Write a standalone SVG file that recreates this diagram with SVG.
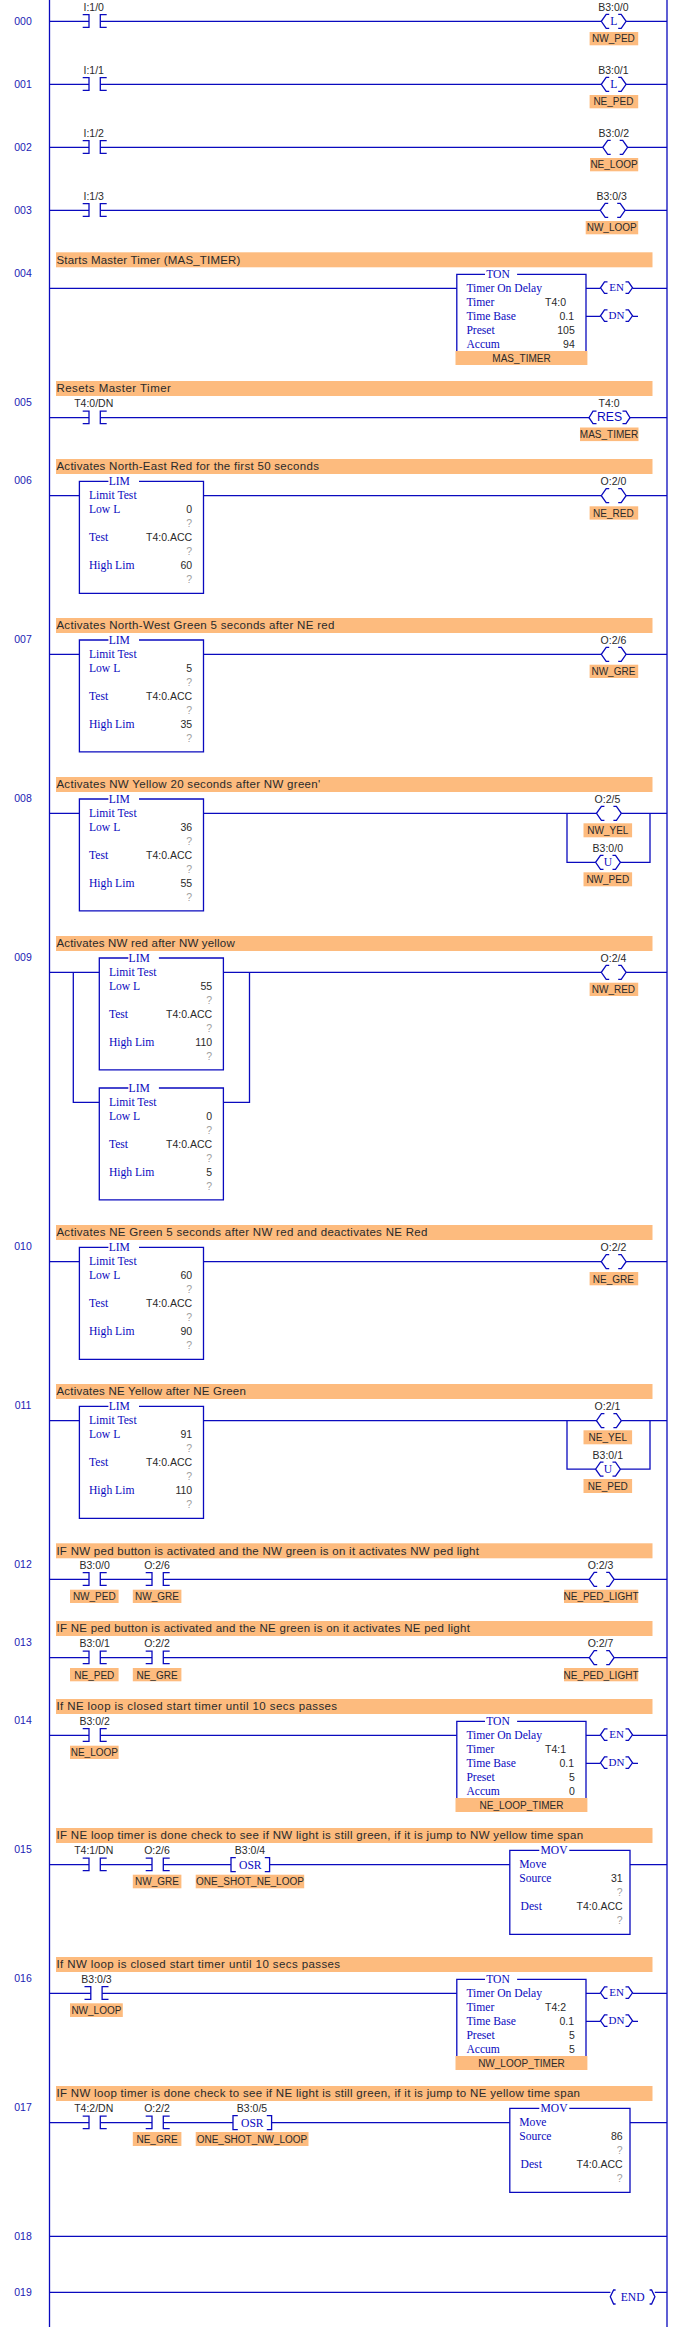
<svg xmlns="http://www.w3.org/2000/svg" width="681" height="2327" viewBox="0 0 681 2327">
<style>
text{font-family:"Liberation Sans",Arial,sans-serif;font-size:10.5px;fill:#2a2a2a}
.n{fill:#1c1cb4;text-anchor:middle}
.a{text-anchor:middle}
.t{text-anchor:middle;font-size:10px}
.v{text-anchor:end}
.q{text-anchor:end;fill:#a0a0a0}
.c{font-size:11.5px}
.s{font-family:"Liberation Serif","Times New Roman",serif;font-size:11.6px;fill:#0a0abe}
.m{font-family:"Liberation Serif","Times New Roman",serif;font-size:11.6px;fill:#0a0abe;text-anchor:middle}
.e{font-family:"Liberation Serif","Times New Roman",serif;font-size:11px;fill:#0a0abe;text-anchor:middle}
.r{font-family:"Liberation Sans",Arial,sans-serif;font-size:12.2px;fill:#0a0abe;text-anchor:middle}
.w{fill:none;stroke:#0a0abe;stroke-width:1.3}
.b{fill:#fdbb7e}
</style>
<defs>
<path id="contact" class="w" d="M-12 -6.6H-5.7V6H-12M12 -6.6H5.6V6H12"/>
<path id="coil" class="w" d="M-4.5 -7H-7.5L-12.4 0L-7.5 7H-4.5M4.5 -7H7.5L12.4 0L7.5 7H4.5"/>
<path id="coilw" class="w" d="M-9 -6.5H-12L-16 -.5L-12 5H-9M9 -6.5H12L16 -.5L12 5H9"/>
<path id="coilres" class="w" d="M-13 -6.5H-16.5L-20.5 0L-16.5 6H-13M13 -6.5H16.5L20.5 0L16.5 6H13"/>
<path id="coilend" class="w" d="M-17 -2.3H-19L-22.3 4.5L-19 11.7H-17M17 -2.3H19L22.3 4.5L19 11.7H17"/>
<path id="osr" class="w" d="M-14.5 -7H-19.3V7H-14.5M14.5 -7H19.3V7H14.5"/>
<path id="limbox" class="w" d="M29 -14.3H0V97.6H124.1V-14.3H59.6"/>
<path id="tonbox" class="w" d="M0 62.7V-14H28.2M60.3 -14H129.2V62.7"/>
<path id="movbox" class="w" d="M29.5 -14.3H0V69.7H120.2V-14.3H59.5"/>
</defs>
<rect width="681" height="2327" fill="#fff"/>

<g id="comments">
<rect class="b" x="56" y="252.3" width="596.5" height="15"/><text class="c" x="56.4" y="263.6" textLength="184" lengthAdjust="spacing">Starts Master Timer (MAS_TIMER)</text>
<rect class="b" x="56" y="381" width="596.5" height="15"/><text class="c" x="56.4" y="392.3" textLength="114.5" lengthAdjust="spacing">Resets Master Timer</text>
<rect class="b" x="56" y="459" width="596.5" height="15"/><text class="c" x="56.4" y="470.3" textLength="262.5" lengthAdjust="spacing">Activates North-East Red for the first 50 seconds</text>
<rect class="b" x="56" y="618" width="596.5" height="15"/><text class="c" x="56.4" y="629.3" textLength="278" lengthAdjust="spacing">Activates North-West Green 5 seconds after NE red</text>
<rect class="b" x="56" y="777" width="596.5" height="15"/><text class="c" x="56.4" y="788.3" textLength="263.8" lengthAdjust="spacing">Activates NW Yellow 20 seconds after NW green'</text>
<rect class="b" x="56" y="936" width="596.5" height="15"/><text class="c" x="56.4" y="947.3" textLength="178.3" lengthAdjust="spacing">Activates NW red after NW yellow</text>
<rect class="b" x="56" y="1225" width="596.5" height="15"/><text class="c" x="56.4" y="1236.3" textLength="371" lengthAdjust="spacing">Activates NE Green 5 seconds after NW red and deactivates NE Red</text>
<rect class="b" x="56" y="1384" width="596.5" height="15"/><text class="c" x="56.4" y="1395.3" textLength="189.5" lengthAdjust="spacing">Activates NE Yellow after NE Green</text>
<rect class="b" x="56" y="1543.3" width="596.5" height="15"/><text class="c" x="56.4" y="1554.6" textLength="422.6" lengthAdjust="spacing">IF NW ped button is activated and the NW green is on it activates NW ped light</text>
<rect class="b" x="56" y="1621" width="596.5" height="15"/><text class="c" x="56.4" y="1632.3" textLength="413.5" lengthAdjust="spacing">IF NE ped button is activated and the NE green is on it activates NE ped light</text>
<rect class="b" x="56" y="1699" width="596.5" height="15"/><text class="c" x="56.4" y="1710.3" textLength="280.7" lengthAdjust="spacing">If NE loop is closed start timer until 10 secs passes</text>
<rect class="b" x="56" y="1828" width="596.5" height="15"/><text class="c" x="56.4" y="1839.3" textLength="526.7" lengthAdjust="spacing">IF NE loop timer is done check to see if NW light is still green, if it is jump to NW yellow time span</text>
<rect class="b" x="56" y="1957" width="596.5" height="15"/><text class="c" x="56.4" y="1968.3" textLength="283.7" lengthAdjust="spacing">If NW loop is closed start timer until 10 secs passes</text>
<rect class="b" x="56" y="2086" width="596.5" height="15"/><text class="c" x="56.4" y="2097.3" textLength="523.6" lengthAdjust="spacing">IF NW loop timer is done check to see if NE light is still green, if it is jump to NE yellow time span</text>
</g>

<g id="rung-numbers">
<text class="n" x="23" y="25.1">000</text>
<text class="n" x="23" y="88.1">001</text>
<text class="n" x="23" y="151.1">002</text>
<text class="n" x="23" y="214.1">003</text>
<text class="n" x="23" y="277.1">004</text>
<text class="n" x="23" y="406.1">005</text>
<text class="n" x="23" y="484.1">006</text>
<text class="n" x="23" y="643.1">007</text>
<text class="n" x="23" y="801.8">008</text>
<text class="n" x="23" y="960.8">009</text>
<text class="n" x="23" y="1250.1">010</text>
<text class="n" x="23" y="1409.1">011</text>
<text class="n" x="23" y="1568.1">012</text>
<text class="n" x="23" y="1646.1">013</text>
<text class="n" x="23" y="1724.1">014</text>
<text class="n" x="23" y="1853.1">015</text>
<text class="n" x="23" y="1981.8">016</text>
<text class="n" x="23" y="2110.8">017</text>
<text class="n" x="23" y="2239.8">018</text>
<text class="n" x="23" y="2295.8">019</text>
</g>

<g id="connectors" class="w">
<path d="M49.5 0V2327M667 0V2327"/>
<path d="M49.5 21.3H89M100.3 21.3H601.3M626.1 21.3H667"/>
<path d="M49.5 84.3H89M100.3 84.3H601.3M626.1 84.3H667"/>
<path d="M49.5 147.3H89M100.3 147.3H602.8M627.6 147.3H667"/>
<path d="M49.5 210.3H89M100.3 210.3H600.3M625.1 210.3H667"/>
<path d="M49.5 288.3H456.8M586 288.3H600.5M632.5 288.3H667M586 316.3H600.5M632.5 316.3H638"/>
<path d="M49.5 417.7H89M100.3 417.7H589M630 417.7H667"/>
<path d="M49.5 495.7H79.4M203.5 495.7H601.3M626.1 495.7H667"/>
<path d="M49.5 654.3H79.4M203.5 654.3H601.3M626.1 654.3H667"/>
<path d="M49.5 813.3H79.4M203.5 813.3H596.5M621.3 813.3H667M567 813.3V862.3H595.6M620.4 862.3H650V813.3"/>
<path d="M49.5 972.3H99.3M223.4 972.3H601.3M626.1 972.3H667M73.3 972.3V1102.3H99.3M223.4 1102.3H249.5V972.3"/>
<path d="M49.5 1261.7H79.4M203.5 1261.7H601.3M626.1 1261.7H667"/>
<path d="M49.5 1420.7H79.4M203.5 1420.7H596.5M621.3 1420.7H667M567 1420.7V1469.2H595.6M620.4 1469.2H650V1420.7"/>
<path d="M49.5 1579.3H89M100.3 1579.3H152M163.3 1579.3H589.3M614.1 1579.3H667"/>
<path d="M49.5 1657.7H89M100.3 1657.7H152M163.3 1657.7H589.3M614.1 1657.7H667"/>
<path d="M49.5 1735.3H89M100.3 1735.3H456.8M586 1735.3H600.5M632.5 1735.3H667M586 1763.3H600.5M632.5 1763.3H638"/>
<path d="M49.5 1864.7H89M100.3 1864.7H152M163.3 1864.7H231M270 1864.7H509.8M630 1864.7H667"/>
<path d="M49.5 1993.3H90.8M102.1 1993.3H456.8M586 1993.3H600.5M632.5 1993.3H667M586 2021.3H600.5M632.5 2021.3H638"/>
<path d="M49.5 2122.7H89M100.3 2122.7H152M163.3 2122.7H233M271.7 2122.7H509.8M630 2122.7H667"/>
<path d="M49.5 2236.3H667"/>
<path d="M49.5 2292.3H610.4M654.8 2292.3H667"/>
</g>

<g id="c000"><use href="#contact" x="94.7" y="21.3"/><text class="a" x="93.7" y="11">I:1/0</text></g>
<g id="o000"><use href="#coil" x="613.7" y="21.3"/><text class="m" x="613.7" y="25.3">L</text><text class="a" x="613.4" y="11">B3:0/0</text><rect class="b" x="589.6" y="32" width="48.6" height="13.3"/><text class="t" x="613.4" y="42.2">NW_PED</text></g>
<g id="c001"><use href="#contact" x="94.7" y="84.3"/><text class="a" x="93.7" y="74">I:1/1</text></g>
<g id="o001"><use href="#coil" x="613.7" y="84.3"/><text class="m" x="613.7" y="88.3">L</text><text class="a" x="613.4" y="74">B3:0/1</text><rect class="b" x="589.6" y="95" width="48.6" height="13.3"/><text class="t" x="613.4" y="105.2">NE_PED</text></g>
<g id="c002"><use href="#contact" x="94.7" y="147.3"/><text class="a" x="93.7" y="137">I:1/2</text></g>
<g id="o002"><use href="#coil" x="615.2" y="147.3"/><text class="a" x="613.8" y="137">B3:0/2</text><rect class="b" x="590" y="158" width="48.2" height="13.3"/><text class="t" x="614" y="168.2">NE_LOOP</text></g>
<g id="c003"><use href="#contact" x="94.7" y="210.3"/><text class="a" x="93.7" y="200">I:1/3</text></g>
<g id="o003"><use href="#coil" x="612.7" y="210.3"/><text class="a" x="611.7" y="200">B3:0/3</text><rect class="b" x="585.7" y="221" width="52.5" height="13.3"/><text class="t" x="611.7" y="231.2">NW_LOOP</text></g>

<g id="ton004" transform="translate(456.8,288.3)">
<use href="#tonbox"/><text class="m" x="41.2" y="-10.3">TON</text>
<text class="s" x="9.6" y="3.7">Timer On Delay</text>
<text class="s" x="9.6" y="17.7">Timer</text><text class="v" x="109.3" y="17.7">T4:0</text>
<text class="s" x="9.6" y="31.7">Time Base</text><text class="v" x="117.2" y="31.7">0.1</text>
<text class="s" x="9.6" y="45.7">Preset</text><text class="v" x="118" y="45.7">105</text>
<text class="s" x="9.6" y="59.7">Accum</text><text class="v" x="118" y="59.7">94</text>
<rect class="b" x="-1.3" y="62.7" width="131.9" height="14"/><text class="t" x="64.7" y="73.5">MAS_TIMER</text>
</g>
<g id="en004"><use href="#coilw" x="616.5" y="288.3"/><text class="e" x="616.5" y="290.6">EN</text></g>
<g id="dn004"><use href="#coilw" x="616.5" y="316.3"/><text class="e" x="616.5" y="318.6">DN</text></g>

<g id="c005"><use href="#contact" x="94.7" y="417.7"/><text class="a" x="93.7" y="407.4">T4:0/DN</text></g>
<g id="o005"><use href="#coilres" x="609.5" y="417.7"/><text class="r" x="609.5" y="421.3">RES</text><text class="a" x="609" y="407.4">T4:0</text><rect class="b" x="580" y="427.5" width="58.5" height="13.6"/><text class="t" x="609" y="437.8">MAS_TIMER</text></g>

<g id="lim006" transform="translate(79.4,495.7)">
<use href="#limbox"/><text class="m" x="39.9" y="-10.3">LIM</text>
<text class="s" x="9.6" y="3.7">Limit Test</text>
<text class="s" x="9.6" y="17.7">Low L</text><text class="v" x="112.8" y="17.7">0</text><text class="q" x="112.8" y="31.4">?</text>
<text class="s" x="9.6" y="45.7">Test</text><text class="v" x="112.8" y="45.7">T4:0.ACC</text><text class="q" x="112.8" y="59.4">?</text>
<text class="s" x="9.6" y="73.7">High Lim</text><text class="v" x="112.8" y="73.7">60</text><text class="q" x="112.8" y="87.4">?</text>
</g>
<g id="o006"><use href="#coil" x="613.7" y="495.7"/><text class="a" x="613.4" y="485.4">O:2/0</text><rect class="b" x="589.6" y="506.3" width="48.6" height="13.3"/><text class="t" x="613.4" y="516.5">NE_RED</text></g>

<g id="lim007" transform="translate(79.4,654.3)">
<use href="#limbox"/><text class="m" x="39.9" y="-10.3">LIM</text>
<text class="s" x="9.6" y="3.7">Limit Test</text>
<text class="s" x="9.6" y="17.7">Low L</text><text class="v" x="112.8" y="17.7">5</text><text class="q" x="112.8" y="31.4">?</text>
<text class="s" x="9.6" y="45.7">Test</text><text class="v" x="112.8" y="45.7">T4:0.ACC</text><text class="q" x="112.8" y="59.4">?</text>
<text class="s" x="9.6" y="73.7">High Lim</text><text class="v" x="112.8" y="73.7">35</text><text class="q" x="112.8" y="87.4">?</text>
</g>
<g id="o007"><use href="#coil" x="613.7" y="654.3"/><text class="a" x="613.4" y="644">O:2/6</text><rect class="b" x="589.6" y="664.7" width="48.6" height="13.3"/><text class="t" x="613.4" y="675.2">NW_GRE</text></g>

<g id="lim008" transform="translate(79.4,813.3)">
<use href="#limbox"/><text class="m" x="39.9" y="-10.3">LIM</text>
<text class="s" x="9.6" y="3.7">Limit Test</text>
<text class="s" x="9.6" y="17.7">Low L</text><text class="v" x="112.8" y="17.7">36</text><text class="q" x="112.8" y="31.4">?</text>
<text class="s" x="9.6" y="45.7">Test</text><text class="v" x="112.8" y="45.7">T4:0.ACC</text><text class="q" x="112.8" y="59.4">?</text>
<text class="s" x="9.6" y="73.7">High Lim</text><text class="v" x="112.8" y="73.7">55</text><text class="q" x="112.8" y="87.4">?</text>
</g>
<g id="o008a"><use href="#coil" x="608.9" y="813.3"/><text class="a" x="607.4" y="803">O:2/5</text><rect class="b" x="583.5" y="823.3" width="48.6" height="14"/><text class="t" x="607.8" y="834">NW_YEL</text></g>
<g id="o008b"><use href="#coil" x="608" y="862.3"/><text class="m" x="608" y="866.3">U</text><text class="a" x="607.8" y="852">B3:0/0</text><rect class="b" x="583.5" y="872.3" width="48.6" height="14"/><text class="t" x="607.8" y="882.9">NW_PED</text></g>

<g id="lim009a" transform="translate(99.3,972.3)">
<use href="#limbox"/><text class="m" x="39.9" y="-10.3">LIM</text>
<text class="s" x="9.6" y="3.7">Limit Test</text>
<text class="s" x="9.6" y="17.7">Low L</text><text class="v" x="112.8" y="17.7">55</text><text class="q" x="112.8" y="31.4">?</text>
<text class="s" x="9.6" y="45.7">Test</text><text class="v" x="112.8" y="45.7">T4:0.ACC</text><text class="q" x="112.8" y="59.4">?</text>
<text class="s" x="9.6" y="73.7">High Lim</text><text class="v" x="112.8" y="73.7">110</text><text class="q" x="112.8" y="87.4">?</text>
</g>
<g id="lim009b" transform="translate(99.3,1102.3)">
<use href="#limbox"/><text class="m" x="39.9" y="-10.3">LIM</text>
<text class="s" x="9.6" y="3.7">Limit Test</text>
<text class="s" x="9.6" y="17.7">Low L</text><text class="v" x="112.8" y="17.7">0</text><text class="q" x="112.8" y="31.4">?</text>
<text class="s" x="9.6" y="45.7">Test</text><text class="v" x="112.8" y="45.7">T4:0.ACC</text><text class="q" x="112.8" y="59.4">?</text>
<text class="s" x="9.6" y="73.7">High Lim</text><text class="v" x="112.8" y="73.7">5</text><text class="q" x="112.8" y="87.4">?</text>
</g>
<g id="o009"><use href="#coil" x="613.7" y="972.3"/><text class="a" x="613.4" y="962">O:2/4</text><rect class="b" x="589.6" y="982.7" width="48.6" height="13.3"/><text class="t" x="613.4" y="993.2">NW_RED</text></g>

<g id="lim010" transform="translate(79.4,1261.7)">
<use href="#limbox"/><text class="m" x="39.9" y="-10.3">LIM</text>
<text class="s" x="9.6" y="3.7">Limit Test</text>
<text class="s" x="9.6" y="17.7">Low L</text><text class="v" x="112.8" y="17.7">60</text><text class="q" x="112.8" y="31.4">?</text>
<text class="s" x="9.6" y="45.7">Test</text><text class="v" x="112.8" y="45.7">T4:0.ACC</text><text class="q" x="112.8" y="59.4">?</text>
<text class="s" x="9.6" y="73.7">High Lim</text><text class="v" x="112.8" y="73.7">90</text><text class="q" x="112.8" y="87.4">?</text>
</g>
<g id="o010"><use href="#coil" x="613.7" y="1261.7"/><text class="a" x="613.4" y="1251.4">O:2/2</text><rect class="b" x="589.6" y="1272" width="48.6" height="13.3"/><text class="t" x="613.4" y="1282.5">NE_GRE</text></g>

<g id="lim011" transform="translate(79.4,1420.7)">
<use href="#limbox"/><text class="m" x="39.9" y="-10.3">LIM</text>
<text class="s" x="9.6" y="3.7">Limit Test</text>
<text class="s" x="9.6" y="17.7">Low L</text><text class="v" x="112.8" y="17.7">91</text><text class="q" x="112.8" y="31.4">?</text>
<text class="s" x="9.6" y="45.7">Test</text><text class="v" x="112.8" y="45.7">T4:0.ACC</text><text class="q" x="112.8" y="59.4">?</text>
<text class="s" x="9.6" y="73.7">High Lim</text><text class="v" x="112.8" y="73.7">110</text><text class="q" x="112.8" y="87.4">?</text>
</g>
<g id="o011a"><use href="#coil" x="608.9" y="1420.7"/><text class="a" x="607.4" y="1410.4">O:2/1</text><rect class="b" x="583.5" y="1430.3" width="48.6" height="14"/><text class="t" x="607.8" y="1441">NE_YEL</text></g>
<g id="o011b"><use href="#coil" x="608" y="1469.2"/><text class="m" x="608" y="1473.2">U</text><text class="a" x="607.8" y="1459">B3:0/1</text><rect class="b" x="583.5" y="1479" width="48.6" height="14"/><text class="t" x="607.8" y="1489.7">NE_PED</text></g>

<g id="c012a"><use href="#contact" x="94.7" y="1579.3"/><text class="a" x="94.6" y="1569">B3:0/0</text><rect class="b" x="70" y="1589.7" width="48.6" height="13.3"/><text class="t" x="94.3" y="1600.2">NW_PED</text></g>
<g id="c012b"><use href="#contact" x="157.7" y="1579.3"/><text class="a" x="157" y="1569">O:2/6</text><rect class="b" x="132.8" y="1589.7" width="48.6" height="13.3"/><text class="t" x="157" y="1600.2">NW_GRE</text></g>
<g id="o012"><use href="#coil" x="601.7" y="1579.3"/><text class="a" x="600.5" y="1569">O:2/3</text><rect class="b" x="564" y="1589.7" width="74.2" height="13.3"/><text class="t" x="601" y="1600.2">NE_PED_LIGHT</text></g>

<g id="c013a"><use href="#contact" x="94.7" y="1657.7"/><text class="a" x="94.6" y="1647.4">B3:0/1</text><rect class="b" x="70" y="1668" width="48.6" height="13.3"/><text class="t" x="94.3" y="1678.5">NE_PED</text></g>
<g id="c013b"><use href="#contact" x="157.7" y="1657.7"/><text class="a" x="157" y="1647.4">O:2/2</text><rect class="b" x="132.8" y="1668" width="48.6" height="13.3"/><text class="t" x="157" y="1678.5">NE_GRE</text></g>
<g id="o013"><use href="#coil" x="601.7" y="1657.7"/><text class="a" x="600.5" y="1647.4">O:2/7</text><rect class="b" x="564" y="1668" width="74.2" height="13.3"/><text class="t" x="601" y="1678.5">NE_PED_LIGHT</text></g>

<g id="c014"><use href="#contact" x="94.7" y="1735.3"/><text class="a" x="94.6" y="1725">B3:0/2</text><rect class="b" x="70" y="1745.7" width="48.6" height="13.3"/><text class="t" x="94.3" y="1756.2">NE_LOOP</text></g>
<g id="ton014" transform="translate(456.8,1735.3)">
<use href="#tonbox"/><text class="m" x="41.2" y="-10.3">TON</text>
<text class="s" x="9.6" y="3.7">Timer On Delay</text>
<text class="s" x="9.6" y="17.7">Timer</text><text class="v" x="109.3" y="17.7">T4:1</text>
<text class="s" x="9.6" y="31.7">Time Base</text><text class="v" x="117.2" y="31.7">0.1</text>
<text class="s" x="9.6" y="45.7">Preset</text><text class="v" x="118" y="45.7">5</text>
<text class="s" x="9.6" y="59.7">Accum</text><text class="v" x="118" y="59.7">0</text>
<rect class="b" x="-1.3" y="62.7" width="131.9" height="14"/><text class="t" x="64.7" y="73.5">NE_LOOP_TIMER</text>
</g>
<g id="en014"><use href="#coilw" x="616.5" y="1735.3"/><text class="e" x="616.5" y="1737.6">EN</text></g>
<g id="dn014"><use href="#coilw" x="616.5" y="1763.3"/><text class="e" x="616.5" y="1765.6">DN</text></g>

<g id="c015a"><use href="#contact" x="94.7" y="1864.7"/><text class="a" x="93.7" y="1854.4">T4:1/DN</text></g>
<g id="c015b"><use href="#contact" x="157.7" y="1864.7"/><text class="a" x="157" y="1854.4">O:2/6</text><rect class="b" x="132.8" y="1874.7" width="48.6" height="13.6"/><text class="t" x="157" y="1885.2">NW_GRE</text></g>
<g id="osr015"><use href="#osr" x="250.3" y="1864.7"/><text class="m" x="250.3" y="1868.7">OSR</text><text class="a" x="250" y="1854.4">B3:0/4</text><rect class="b" x="195.7" y="1874.7" width="108.5" height="13.6"/><text class="t" x="250" y="1885.2">ONE_SHOT_NE_LOOP</text></g>
<g id="mov015" transform="translate(509.8,1864.7)">
<use href="#movbox"/><text class="m" x="44.2" y="-10.3">MOV</text>
<text class="s" x="9.5" y="3.7">Move</text>
<text class="s" x="9.5" y="17.7">Source</text><text class="v" x="112.8" y="17.7">31</text><text class="q" x="112.8" y="31.4">?</text>
<text class="s" x="10.8" y="45.7">Dest</text><text class="v" x="112.8" y="45.7">T4:0.ACC</text><text class="q" x="112.8" y="59.4">?</text>
</g>

<g id="c016"><use href="#contact" x="96.5" y="1993.3"/><text class="a" x="96.5" y="1983">B3:0/3</text><rect class="b" x="70" y="2003.3" width="52.8" height="13.7"/><text class="t" x="96.4" y="2014">NW_LOOP</text></g>
<g id="ton016" transform="translate(456.8,1993.3)">
<use href="#tonbox"/><text class="m" x="41.2" y="-10.3">TON</text>
<text class="s" x="9.6" y="3.7">Timer On Delay</text>
<text class="s" x="9.6" y="17.7">Timer</text><text class="v" x="109.3" y="17.7">T4:2</text>
<text class="s" x="9.6" y="31.7">Time Base</text><text class="v" x="117.2" y="31.7">0.1</text>
<text class="s" x="9.6" y="45.7">Preset</text><text class="v" x="118" y="45.7">5</text>
<text class="s" x="9.6" y="59.7">Accum</text><text class="v" x="118" y="59.7">5</text>
<rect class="b" x="-1.3" y="62.7" width="131.9" height="14"/><text class="t" x="64.7" y="73.5">NW_LOOP_TIMER</text>
</g>
<g id="en016"><use href="#coilw" x="616.5" y="1993.3"/><text class="e" x="616.5" y="1995.6">EN</text></g>
<g id="dn016"><use href="#coilw" x="616.5" y="2021.3"/><text class="e" x="616.5" y="2023.6">DN</text></g>

<g id="c017a"><use href="#contact" x="94.7" y="2122.7"/><text class="a" x="93.7" y="2112.4">T4:2/DN</text></g>
<g id="c017b"><use href="#contact" x="157.7" y="2122.7"/><text class="a" x="157" y="2112.4">O:2/2</text><rect class="b" x="132.8" y="2132" width="48.6" height="14"/><text class="t" x="157" y="2142.8">NE_GRE</text></g>
<g id="osr017"><use href="#osr" x="252.3" y="2122.7"/><text class="m" x="252.3" y="2126.7">OSR</text><text class="a" x="252" y="2112.4">B3:0/5</text><rect class="b" x="195.7" y="2132" width="112.8" height="14"/><text class="t" x="252" y="2142.8">ONE_SHOT_NW_LOOP</text></g>
<g id="mov017" transform="translate(509.8,2122.7)">
<use href="#movbox"/><text class="m" x="44.2" y="-10.3">MOV</text>
<text class="s" x="9.5" y="3.7">Move</text>
<text class="s" x="9.5" y="17.7">Source</text><text class="v" x="112.8" y="17.7">86</text><text class="q" x="112.8" y="31.4">?</text>
<text class="s" x="10.8" y="45.7">Dest</text><text class="v" x="112.8" y="45.7">T4:0.ACC</text><text class="q" x="112.8" y="59.4">?</text>
</g>

<g id="end019"><use href="#coilend" x="632.6" y="2292.3"/><text class="m" x="632.6" y="2300.5">END</text></g>
</svg>
